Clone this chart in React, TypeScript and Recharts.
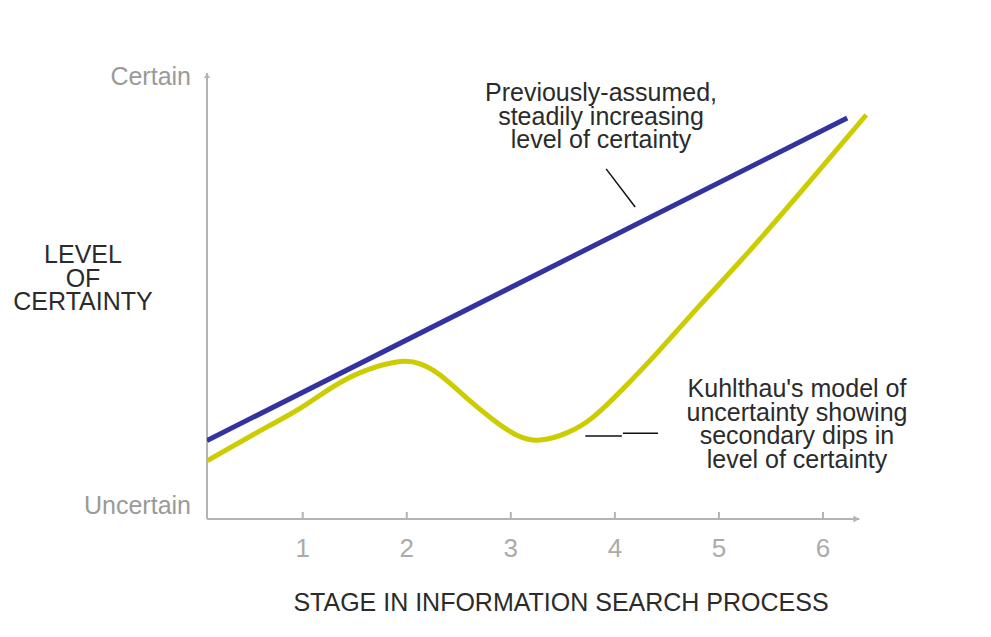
import React from 'react';
import { LineChart, Line, XAxis, YAxis, ReferenceLine, ReferenceDot } from 'recharts';

// ---- data ----
const stageTicks = [1, 2, 3, 4, 5, 6];
const certaintyTicks = [3.1, 99.2];
const certaintyTickLabels = ['Uncertain', 'Certain'];

const assumedX = [0.08, 6.233];
const assumedY = [17.6, 89.9];

const kuhlthauX = [0.085, 0.333, 0.654, 0.974, 1.294, 1.615, 1.936, 2.128, 2.32, 2.577, 2.833, 3.058, 3.282, 3.538, 3.794, 4.083, 4.404, 4.82, 5.301, 5.859, 6.416];
const kuhlthauY = [13.1, 16.4, 20.6, 24.8, 29.7, 33.4, 35.3, 34.8, 32.3, 27.1, 22.2, 18.8, 17.7, 19.3, 22.9, 29.3, 37.2, 48.0, 60.3, 75.3, 90.6];

const assumedPointerX = [3.916, 4.195];
const assumedPointerY = [78.5, 69.96];
const kuhlthauPointerX = [3.716, 4.067, 4.077, 4.415];
const kuhlthauPointerY = [18.6, 18.6, 19.2, 19.2];

const axisStartX = 0.08;
const axisEndX = 6.35;

const assumedLabel = ['Previously-assumed,', 'steadily increasing', 'level of certainty'];
const kuhlthauLabel = ["Kuhlthau's model of", 'uncertainty showing', 'secondary dips in', 'level of certainty'];
const yTitle = ['LEVEL', 'OF', 'CERTAINTY'];
const xTitle = 'STAGE IN INFORMATION SEARCH PROCESS';

const assumedData = assumedX.map((x, i) => ({ x, v: assumedY[i] }));
const kuhlthauData = kuhlthauX.map((x, i) => ({ x, v: kuhlthauY[i] }));

const FONT = '"Liberation Sans", Arial, Helvetica, sans-serif';
const AXIS_COLOR = '#b4b4b4';
const TEXT_COLOR = '#2b2b2b';

const XTick = (props: any) => {
  const { x, y, payload } = props;
  return (
    <g>
      <line x1={x} y1={y - 7} x2={x} y2={y} stroke={AXIS_COLOR} strokeWidth={2} />
      <text x={x} y={y + 38} textAnchor="middle" fontFamily={FONT} fontSize={26} fill="#ababab">
        {payload.value}
      </text>
    </g>
  );
};

const ArrowRight = (props: any) => {
  const { cx, cy } = props;
  return <path d={`M${cx - 6},${cy - 3.5} L${cx},${cy} L${cx - 6},${cy + 3.5} Z`} fill={AXIS_COLOR} />;
};
const ArrowUp = (props: any) => {
  const { cx, cy } = props;
  return <path d={`M${cx - 3},${cy + 5} L${cx},${cy} L${cx + 3},${cy + 5} Z`} fill={AXIS_COLOR} />;
};

const TextBlock = ({ lines, cx, top }: { lines: string[]; cx: number; top: number }) => (
  <div
    style={{
      position: 'absolute',
      left: cx - 450,
      top,
      width: 900,
      textAlign: 'center',
      fontFamily: FONT,
      fontSize: 25,
      lineHeight: '23.5px',
      color: TEXT_COLOR,
      whiteSpace: 'pre',
    }}
  >
    {lines.map((l, i) => (
      <div key={i}>{l}</div>
    ))}
  </div>
);

export default function App() {
  return (
    <div style={{ position: 'absolute', left: 0, top: 0, width: 991, height: 637, background: '#fff', overflow: 'hidden' }}>
      <LineChart width={991} height={637} margin={{ top: 73, right: 116, bottom: 88, left: 0 }}>
        <XAxis
          type="number"
          dataKey="x"
          domain={[0.08, 6.5]}
          ticks={stageTicks}
          axisLine={false}
          tickLine={false}
          tickSize={0}
          tickMargin={0}
          height={30}
          tick={<XTick />}
          allowDataOverflow
        />
        <YAxis
          type="number"
          domain={[0, 100]}
          ticks={certaintyTicks}
          tickFormatter={(v: number) => certaintyTickLabels[certaintyTicks.indexOf(v)]}
          axisLine={false}
          tickLine={false}
          tickSize={0}
          tickMargin={16}
          width={207}
          tick={{ fontFamily: FONT, fontSize: 25, fill: '#9a9a9a' }}
          allowDataOverflow
        />
        <ReferenceLine segment={[{ x: axisStartX, y: 0 }, { x: axisEndX, y: 0 }]} stroke={AXIS_COLOR} strokeWidth={2} />
        <ReferenceLine segment={[{ x: axisStartX, y: 0 }, { x: axisStartX, y: 100 }]} stroke={AXIS_COLOR} strokeWidth={2} />
        <ReferenceDot x={axisEndX} y={0} r={0} shape={<ArrowRight />} />
        <ReferenceDot x={axisStartX} y={100} r={0} shape={<ArrowUp />} />
        <ReferenceLine
          segment={[{ x: assumedPointerX[0], y: assumedPointerY[0] }, { x: assumedPointerX[1], y: assumedPointerY[1] }]}
          stroke="#111"
          strokeWidth={1.5}
        />
        <ReferenceLine
          segment={[{ x: kuhlthauPointerX[0], y: kuhlthauPointerY[0] }, { x: kuhlthauPointerX[1], y: kuhlthauPointerY[1] }]}
          stroke="#111"
          strokeWidth={1.5}
        />
        <ReferenceLine
          segment={[{ x: kuhlthauPointerX[2], y: kuhlthauPointerY[2] }, { x: kuhlthauPointerX[3], y: kuhlthauPointerY[3] }]}
          stroke="#111"
          strokeWidth={1.5}
        />
        <Line
          data={kuhlthauData}
          dataKey="v"
          type="natural"
          stroke="#cccc00"
          strokeWidth={5}
          dot={false}
          isAnimationActive={false}
        />
        <Line
          data={assumedData}
          dataKey="v"
          type="linear"
          stroke="#3333a0"
          strokeWidth={5}
          dot={false}
          isAnimationActive={false}
        />
      </LineChart>
      <TextBlock lines={assumedLabel} cx={601} top={81} />
      <TextBlock lines={kuhlthauLabel} cx={797} top={377} />
      <TextBlock lines={yTitle} cx={83} top={243} />
      <TextBlock lines={[xTitle]} cx={561} top={591} />
    </div>
  );
}
